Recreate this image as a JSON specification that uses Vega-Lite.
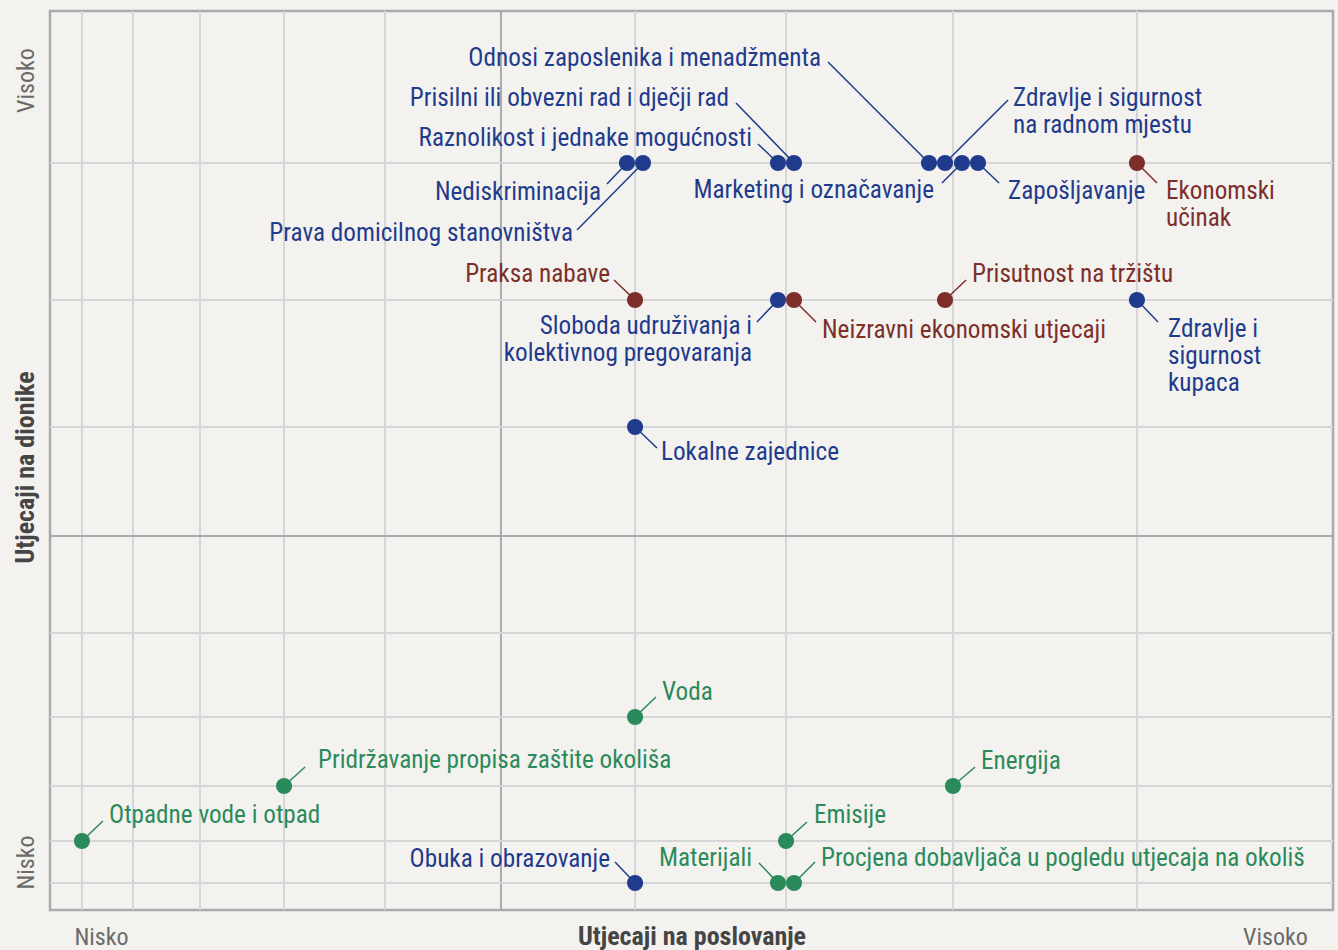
{
  "$schema": "https://vega.github.io/schema/vega-lite/v6.json",
  "width": 1283,
  "height": 899,
  "autosize": {"type": "none"},
  "padding": {"left": 50, "top": 11, "right": 5, "bottom": 40},
  "background": "#f4f2ef",
  "config": {
    "view": {"stroke": "#a9aaad", "strokeWidth": 2.5},
    "font": "Roboto Condensed, Liberation Sans Narrow, DejaVu Sans Condensed, Roboto"
  },
  "resolve": {"axis": {"x": "independent", "y": "independent"}},
  "datasets": {
    "vgrid": [
      {"pos": 2.49, "major": false}, {"pos": 6.47, "major": false}, {"pos": 11.69, "major": false},
      {"pos": 18.24, "major": false}, {"pos": 26.11, "major": false}, {"pos": 35.15, "major": true},
      {"pos": 45.60, "major": false}, {"pos": 57.37, "major": false}, {"pos": 70.38, "major": false},
      {"pos": 84.72, "major": false}
    ],
    "hgrid": [
      {"pos": 3.00, "major": false}, {"pos": 7.68, "major": false}, {"pos": 13.79, "major": false},
      {"pos": 21.47, "major": false}, {"pos": 30.81, "major": false}, {"pos": 41.60, "major": true},
      {"pos": 53.73, "major": false}, {"pos": 67.85, "major": false}, {"pos": 83.09, "major": false}
    ],
    "topics": [
      {"label": "Nediskriminacija", "group": "social", "x": 44.97, "y": 83.09, "ex": 43.41, "ey": 80.76, "lx": 42.95, "ly": 78.98, "side": "left"},
      {"label": "Prava domicilnog stanovništva", "group": "social", "x": 46.22, "y": 83.09, "ex": 41.08, "ey": 75.64, "lx": 40.76, "ly": 74.42, "side": "left"},
      {"label": "Raznolikost i jednake mogućnosti", "group": "social", "x": 56.74, "y": 83.09, "ex": 55.18, "ey": 85.21, "lx": 54.72, "ly": 84.98, "side": "left"},
      {"label": "Prisilni ili obvezni rad i dječji rad", "group": "social", "x": 57.99, "y": 83.09, "ex": 53.47, "ey": 89.77, "lx": 52.92, "ly": 89.43, "side": "left"},
      {"label": "Odnosi zaposlenika i menadžmenta", "group": "social", "x": 68.51, "y": 83.09, "ex": 60.64, "ey": 94.33, "lx": 60.09, "ly": 93.88, "side": "left"},
      {"label": "Zdravlje i sigurnost\nna radnom mjestu", "group": "social", "x": 69.76, "y": 83.09, "ex": 74.67, "ey": 90.10, "lx": 75.06, "ly": 89.43, "side": "right"},
      {"label": "Marketing i označavanje", "group": "social", "x": 71.08, "y": 83.09, "ex": 69.52, "ey": 80.87, "lx": 68.90, "ly": 79.20, "side": "left"},
      {"label": "Zapošljavanje", "group": "social", "x": 72.33, "y": 83.09, "ex": 73.97, "ey": 80.87, "lx": 74.67, "ly": 79.09, "side": "right"},
      {"label": "Sloboda udruživanja i\nkolektivnog pregovaranja", "group": "social", "x": 56.74, "y": 67.85, "ex": 55.10, "ey": 65.41, "lx": 54.72, "ly": 64.07, "side": "left"},
      {"label": "Zdravlje i\nsigurnost\nkupaca", "group": "social", "x": 84.72, "y": 67.85, "ex": 86.36, "ey": 65.41, "lx": 87.14, "ly": 63.74, "side": "right"},
      {"label": "Lokalne zajednice", "group": "social", "x": 45.60, "y": 53.73, "ex": 47.31, "ey": 51.39, "lx": 47.62, "ly": 50.06, "side": "right"},
      {"label": "Obuka i obrazovanje", "group": "social", "x": 45.60, "y": 3.00, "ex": 44.04, "ey": 5.34, "lx": 43.65, "ly": 4.78, "side": "left"},
      {"label": "Ekonomski\nučinak", "group": "economic", "x": 84.72, "y": 83.09, "ex": 86.28, "ey": 80.87, "lx": 86.98, "ly": 79.09, "side": "right"},
      {"label": "Praksa nabave", "group": "economic", "x": 45.60, "y": 67.85, "ex": 43.96, "ey": 70.08, "lx": 43.65, "ly": 69.86, "side": "left"},
      {"label": "Neizravni ekonomski utjecaji", "group": "economic", "x": 57.99, "y": 67.85, "ex": 59.70, "ey": 65.41, "lx": 60.17, "ly": 63.63, "side": "right"},
      {"label": "Prisutnost na tržištu", "group": "economic", "x": 69.76, "y": 67.85, "ex": 71.40, "ey": 70.08, "lx": 71.86, "ly": 69.86, "side": "right"},
      {"label": "Otpadne vode i otpad", "group": "environmental", "x": 2.49, "y": 7.68, "ex": 4.13, "ey": 9.90, "lx": 4.60, "ly": 9.68, "side": "right"},
      {"label": "Pridržavanje propisa zaštite okoliša", "group": "environmental", "x": 18.24, "y": 13.79, "ex": 19.88, "ey": 15.91, "lx": 20.89, "ly": 15.80, "side": "right"},
      {"label": "Voda", "group": "environmental", "x": 45.60, "y": 21.47, "ex": 47.23, "ey": 23.69, "lx": 47.70, "ly": 23.36, "side": "right"},
      {"label": "Energija", "group": "environmental", "x": 70.38, "y": 13.79, "ex": 72.10, "ey": 15.91, "lx": 72.56, "ly": 15.68, "side": "right"},
      {"label": "Emisije", "group": "environmental", "x": 57.37, "y": 7.68, "ex": 59.00, "ey": 9.79, "lx": 59.55, "ly": 9.68, "side": "right"},
      {"label": "Materijali", "group": "environmental", "x": 56.74, "y": 3.00, "ex": 55.26, "ey": 5.23, "lx": 54.72, "ly": 4.89, "side": "left"},
      {"label": "Procjena dobavljača u pogledu utjecaja na okoliš", "group": "environmental", "x": 57.99, "y": 3.00, "ex": 59.63, "ey": 5.34, "lx": 60.09, "ly": 4.89, "side": "right"}
    ]
  },
  "layer": [
    {
      "data": {"name": "vgrid"},
      "mark": {"type": "rule", "strokeWidth": 2},
      "encoding": {
        "x": {
          "field": "pos", "type": "quantitative",
          "scale": {"domain": [0, 100], "nice": false, "zero": false},
          "axis": {
            "values": [3.98, 50, 95.48],
            "labelExpr": "datum.value < 10 ? 'Nisko' : datum.value > 90 ? 'Visoko' : 'Utjecaji na poslovanje'",
            "title": null, "domain": false, "ticks": false, "tickSize": 0, "grid": false,
            "labelPadding": 34, "labelLimit": 0,
            "labelFontSize": {"condition": {"test": "datum.value > 10 && datum.value < 90", "value": 26}, "value": 24},
            "labelColor": {"condition": {"test": "datum.value > 10 && datum.value < 90", "value": "#454545"}, "value": "#6a6a6a"},
            "labelFontWeight": {"condition": {"test": "datum.value > 10 && datum.value < 90", "value": "bold"}, "value": "normal"},
            "labelOverlap": false, "labelBound": false, "labelFlush": false,
            "labelAlign": "center", "labelBaseline": "alphabetic"
          }
        },
        "color": {"condition": {"test": "datum.major", "value": "#a9aaad"}, "value": "#d6d6d9"}
      }
    },
    {
      "data": {"name": "hgrid"},
      "mark": {"type": "rule", "strokeWidth": 2},
      "encoding": {
        "y": {
          "field": "pos", "type": "quantitative",
          "scale": {"domain": [0, 100], "nice": false, "zero": false},
          "axis": {
            "values": [5.34, 49.28, 92.32],
            "labelExpr": "datum.value < 20 ? 'Nisko' : datum.value > 80 ? 'Visoko' : 'Utjecaji na dionike'",
            "title": null, "domain": false, "ticks": false, "tickSize": 0, "grid": false,
            "labelPadding": 17, "labelLimit": 0, "labelAngle": -90,
            "labelFontSize": {"condition": {"test": "datum.value > 20 && datum.value < 80", "value": 26}, "value": 24},
            "labelColor": {"condition": {"test": "datum.value > 20 && datum.value < 80", "value": "#454545"}, "value": "#6a6a6a"},
            "labelFontWeight": {"condition": {"test": "datum.value > 20 && datum.value < 80", "value": "bold"}, "value": "normal"},
            "labelOverlap": false, "labelBound": false, "labelFlush": false,
            "labelAlign": "center", "labelBaseline": "alphabetic"
          }
        },
        "color": {"condition": {"test": "datum.major", "value": "#a9aaad"}, "value": "#d6d6d9"}
      }
    },
    {
      "data": {"name": "topics"},
      "mark": {"type": "rule", "strokeWidth": 1.5},
      "encoding": {
        "x": {"field": "x", "type": "quantitative", "axis": null},
        "y": {"field": "y", "type": "quantitative", "axis": null},
        "x2": {"field": "ex"},
        "y2": {"field": "ey"},
        "color": {"field": "group", "type": "nominal", "scale": {"domain": ["social", "economic", "environmental"], "range": ["#1f3b8c", "#7d2e29", "#2a8a5b"]}, "legend": null}
      }
    },
    {
      "data": {"name": "topics"},
      "mark": {"type": "point", "shape": "circle", "filled": true, "size": 260, "opacity": 1},
      "encoding": {
        "x": {"field": "x", "type": "quantitative", "axis": null},
        "y": {"field": "y", "type": "quantitative", "axis": null},
        "color": {"field": "group", "type": "nominal", "legend": null}
      }
    },
    {
      "data": {"name": "topics"},
      "transform": [{"filter": "datum.side === 'right'"}],
      "mark": {"type": "text", "align": "left", "baseline": "alphabetic", "fontSize": 25.2, "lineHeight": 27, "lineBreak": "\n"},
      "encoding": {
        "x": {"field": "lx", "type": "quantitative", "axis": null},
        "y": {"field": "ly", "type": "quantitative", "axis": null},
        "text": {"field": "label", "type": "nominal"},
        "color": {"field": "group", "type": "nominal", "legend": null}
      }
    },
    {
      "data": {"name": "topics"},
      "transform": [{"filter": "datum.side === 'left'"}],
      "mark": {"type": "text", "align": "right", "baseline": "alphabetic", "fontSize": 25.2, "lineHeight": 27, "lineBreak": "\n"},
      "encoding": {
        "x": {"field": "lx", "type": "quantitative", "axis": null},
        "y": {"field": "ly", "type": "quantitative", "axis": null},
        "text": {"field": "label", "type": "nominal"},
        "color": {"field": "group", "type": "nominal", "legend": null}
      }
    }
  ]
}
